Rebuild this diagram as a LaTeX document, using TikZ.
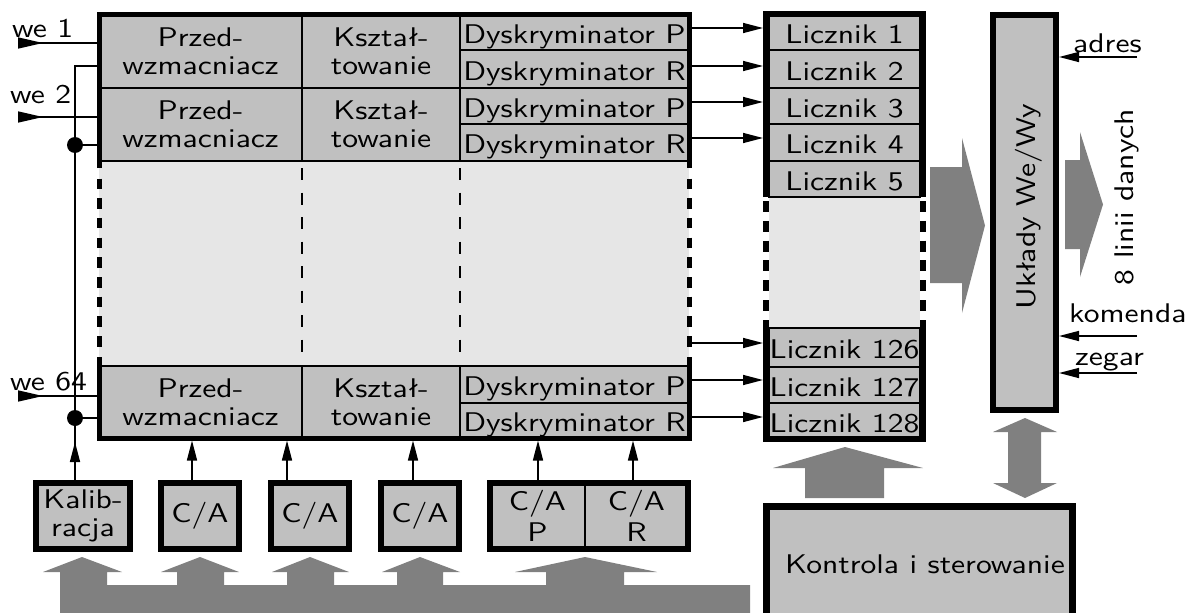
\documentclass[tikz,border=0pt]{standalone}
\usepackage{fontspec}
\newfontfamily\dfont{lmsans10-regular.otf}[FakeStretch=1.17]
\usetikzlibrary{arrows.meta,decorations.markings}
\definecolor{cellgray}{RGB}{192,192,192}
\definecolor{lightgray2}{RGB}{230,230,230}
\definecolor{busgray}{RGB}{128,128,128}
\begin{document}
\begin{tikzpicture}[x=1pt,y=-1pt,
  font=\dfont\fontsize{27}{28}\selectfont,
  every node/.style={inner sep=0pt},
  cell/.style={draw, line width=1.5pt, fill=cellgray, inner sep=0pt, outer sep=0pt, align=center, text height=22pt, text depth=0pt},
  cellb/.style={draw, line width=1.5pt, fill=cellgray, inner sep=0pt, outer sep=0pt, align=center},
  lightcell/.style={fill=lightgray2, inner sep=0pt, outer sep=0pt},
  box/.style={draw, line width=6pt, fill=cellgray, inner sep=0pt, align=center},
  thin/.style={line width=1.5pt},
  sig/.style={line width=1.5pt, -{Triangle[length=20pt,width=10pt]}},
  inarr/.style={line width=1.5pt, postaction={decorate},
     decoration={markings, mark=at position 25pt with {\arrow{Triangle[length=25pt,width=11pt]}}}},
  calarr/.style={line width=1.5pt, postaction={decorate},
     decoration={markings, mark=at position 38pt with {\arrow{Triangle[length=20pt,width=10pt]}}}},
  border/.style={line width=5pt},
  borderdash/.style={line width=5pt, dash pattern=on 10.5pt off 9.2pt},
  lborder/.style={line width=6pt},
  lborderdash/.style={line width=6pt, dash pattern=on 11pt off 8.8pt},
  thindash/.style={line width=1.5pt, dash pattern=on 12pt off 12.5pt},
  big/.style={fill=busgray}
]
\useasboundingbox (0,0) rectangle (1197,613);
\clip (0,0) rectangle (1197,613);

% ---------- bottom bus ----------
\fill[big] (60,625) -- (60,572) -- (43,572) -- (82,557) -- (122,572) -- (107,572) -- (107,585)
  -- (177,585) -- (177,572) -- (161,572) -- (200,557) -- (239,572) -- (224,572) -- (224,585)
  -- (287,585) -- (287,572) -- (272,572) -- (310,557) -- (349,572) -- (334,572) -- (334,585)
  -- (397,585) -- (397,572) -- (382,572) -- (420,557) -- (460,572) -- (443,572) -- (443,585)
  -- (546,585) -- (546,572) -- (515,572) -- (585,557) -- (657,572) -- (624,572) -- (624,585)
  -- (750,585) -- (750,625) -- cycle;

% ---------- main block ----------
\node[minimum width=590pt, minimum height=424pt, outer sep=2.5pt] (blk) at (394,226) {};
\node[lightcell, minimum width=590pt, minimum height=205pt] (mid) at (394,263.5) {};

\node[cellb, minimum width=203pt, minimum height=74pt] (p1) at (200.5,51) {Przed-\\wzmacniacz};
\node[cellb, minimum width=158pt, minimum height=74pt] (k1) at (381,51) {Kształ-\\towanie};
\node[cell, minimum width=229pt, minimum height=36pt] (d1p) at (574.5,32) {Dyskryminator P};
\node[cell, minimum width=229pt, minimum height=38pt] (d1r) at (574.5,69) {Dyskryminator R};

\node[cellb, minimum width=203pt, minimum height=73pt] (p2) at (200.5,124.5) {Przed-\\wzmacniacz};
\node[cellb, minimum width=158pt, minimum height=73pt] (k2) at (381,124.5) {Kształ-\\towanie};
\node[cell, minimum width=229pt, minimum height=36pt] (d2p) at (574.5,106) {Dyskryminator P};
\node[cell, minimum width=229pt, minimum height=37pt] (d2r) at (574.5,142.5) {Dyskryminator R};

\node[cellb, minimum width=203pt, minimum height=72pt] (p64) at (200.5,402) {Przed-\\wzmacniacz};
\node[cellb, minimum width=158pt, minimum height=72pt] (k64) at (381,402) {Kształ-\\towanie};
\node[cell, minimum width=229pt, minimum height=37pt] (d64p) at (574.5,384.5) {Dyskryminator P};
\node[cell, minimum width=229pt, minimum height=35pt] (d64r) at (574.5,420.5) {Dyskryminator R};

\draw[thindash] ([yshift=-7pt]p2.south east) -- ([yshift=9pt]p64.north east);
\draw[thindash] ([yshift=-7pt]k2.south east) -- ([yshift=9pt]k64.north east);

% ---------- counters ----------
\node[lightcell, minimum width=151pt, minimum height=131pt] (lmid) at (844.5,262.5) {};
\node[cell, minimum width=151pt, minimum height=36pt] (l1) at (844.5,32) {Licznik 1};
\node[cell, minimum width=151pt, minimum height=38pt] (l2) at (844.5,69) {Licznik 2};
\node[cell, minimum width=151pt, minimum height=36pt] (l3) at (844.5,106) {Licznik 3};
\node[cell, minimum width=151pt, minimum height=37pt] (l4) at (844.5,142.5) {Licznik 4};
\node[cell, minimum width=151pt, minimum height=36pt] (l5) at (844.5,179) {Licznik 5};
\node[cell, minimum width=151pt, minimum height=39pt] (l126) at (844.5,347.5) {Licznik 126};
\node[cell, minimum width=151pt, minimum height=36pt] (l127) at (844.5,385) {Licznik 127};
\node[cell, minimum width=151pt, minimum height=36pt] (l128) at (844.5,421) {Licznik 128};

% ---------- big arrows on the right ----------
\fill[big] (930,167) -- (962,167) -- (962,138) -- (985,225.5) -- (962,313) -- (962,283) -- (930,283) -- cycle;
\fill[big] (1065,160) -- (1080,160) -- (1080,132) -- (1103,204.5) -- (1080,277) -- (1080,249) -- (1065,249) -- cycle;
\fill[big] (805,498) -- (805,468) -- (773,468) -- (845,447) -- (923,468) -- (884,468) -- (884,498) -- cycle;
\fill[big] (1008,432) -- (993,432) -- (1025,418) -- (1057,432) -- (1041,432) -- (1041,483)
  -- (1057,483) -- (1025,498) -- (993,483) -- (1008,483) -- cycle;

% ---------- I/O and control boxes ----------
\node[box, minimum width=63pt, minimum height=395pt] (uk) at (1024.5,212.5) {};
\node[rotate=90, anchor=base] (ukt) at (1035,207) {Układy We/Wy};
\node[rotate=90, anchor=base] (dan) at (1133,197) {8 linii danych};

\node[draw, line width=7pt, fill=cellgray, minimum width=306pt, minimum height=133pt] (kon) at (919.5,573) {};
\node[anchor=base west] (kont) at (785,573) {Kontrola i sterowanie};

% ---------- bottom D/A boxes ----------
\node[box, minimum width=94pt, minimum height=66pt] (kal) at (83,516) {Kalib-\\racja};
\node[box, minimum width=78pt, minimum height=66pt] (ca1) at (200,516) {C/A};
\node[box, minimum width=78pt, minimum height=66pt] (ca2) at (310,516) {C/A};
\node[box, minimum width=78pt, minimum height=66pt] (ca3) at (420,516) {C/A};
\node[cellb, minimum width=95pt, minimum height=66pt] (cap) at (537.5,516) {C/A\\[3pt]P};
\node[cellb, minimum width=103pt, minimum height=66pt] (car) at (636.5,516) {C/A\\[3pt]R};
\draw[lborder] (cap.north west) rectangle (car.south east);

% ---------- connectors ----------
\draw[sig, shorten >=6pt] ([yshift=4pt]d1p.east) -- ([yshift=4pt]d1p.east -| l1.west);
\draw[sig, shorten >=6pt] ([yshift=3pt]d1r.east) -- ([yshift=3pt]d1r.east -| l2.west);
\draw[sig, shorten >=6pt] ([yshift=4pt]d2p.east) -- ([yshift=4pt]d2p.east -| l3.west);
\draw[sig, shorten >=6pt] ([yshift=4.5pt]d2r.east) -- ([yshift=4.5pt]d2r.east -| l4.west);
\coordinate (a126) at ([yshift=4.5pt]l126.west);
\draw[sig, shorten >=6pt] (mid.east |- a126) -- (a126);
\draw[sig, shorten >=6pt] ([yshift=4.5pt]d64p.east) -- ([yshift=4.5pt]d64p.east -| l127.west);
\draw[sig, shorten >=6pt] ([yshift=3.5pt]d64r.east) -- ([yshift=3.5pt]d64r.east -| l128.west);

\coordinate (in1) at (18,43);
\coordinate (in2) at (18,117);
\coordinate (in64) at (18,396);
\draw[inarr] (in1) -- (in1 -| blk.west);
\draw[inarr] (in2) -- (in2 -| blk.west);
\draw[inarr] (in64) -- (in64 -| blk.west);

\coordinate (ctop) at (75,66);
\coordinate (cd2) at (75,145);
\coordinate (cd64) at (75,418);
\draw[calarr] ([xshift=-8pt]kal.north) -- (ctop) -- (ctop -| blk.west);
\draw[thin] (cd2) -- (cd2 -| blk.west);
\draw[thin] (cd64) -- (cd64 -| blk.west);
\fill (cd2) circle (8pt);
\fill (cd64) circle (8pt);

\draw[sig] ([xshift=-8pt]ca1.north) -- ([xshift=-8pt]ca1.north |- blk.south);
\draw[sig] ([xshift=-23pt]ca2.north) -- ([xshift=-23pt]ca2.north |- blk.south);
\draw[sig] ([xshift=-7pt]ca3.north) -- ([xshift=-7pt]ca3.north |- blk.south);
\draw[sig] ([xshift=0.5pt]cap.north) -- ([xshift=0.5pt]cap.north |- blk.south);
\draw[sig] ([xshift=-3.5pt]car.north) -- ([xshift=-3.5pt]car.north |- blk.south);

\coordinate (adr) at (1137,57);
\coordinate (kom) at (1137,336);
\coordinate (zeg) at (1137,373);
\draw[sig] (adr) -- (adr -| uk.east);
\draw[sig] (kom) -- (kom -| uk.east);
\draw[sig] (zeg) -- (zeg -| uk.east);

% ---------- thick borders ----------
\draw[border] (99,168) -- (99,14) -- (689,14) -- (689,168);
\draw[border] (99,357) -- (99,438) -- (689,438) -- (689,357);
\draw[borderdash] (99,178.5) -- (99,347);
\draw[borderdash] (689,178.5) -- (689,347);

\draw[lborder] (766,197) -- (766,14) -- (923,14) -- (923,197);
\draw[lborder] (766,320) -- (766,439) -- (923,439) -- (923,320);
\draw[lborderdash] (766,201) -- (766,311);
\draw[lborderdash] (923,201) -- (923,311);

% ---------- labels ----------
\node[anchor=base west] (lw1) at (12,37) {we 1};
\node[anchor=base west] (lw2) at (10,103) {we 2};
\node[anchor=base west] (lw64) at (10,390) {we 64};
\node[anchor=base west] (ladr) at (1073,52) {adres};
\node[anchor=base west] (lkom) at (1069,322) {komenda};
\node[anchor=base west] (lzeg) at (1075,365) {zegar};
\end{tikzpicture}
\end{document}
